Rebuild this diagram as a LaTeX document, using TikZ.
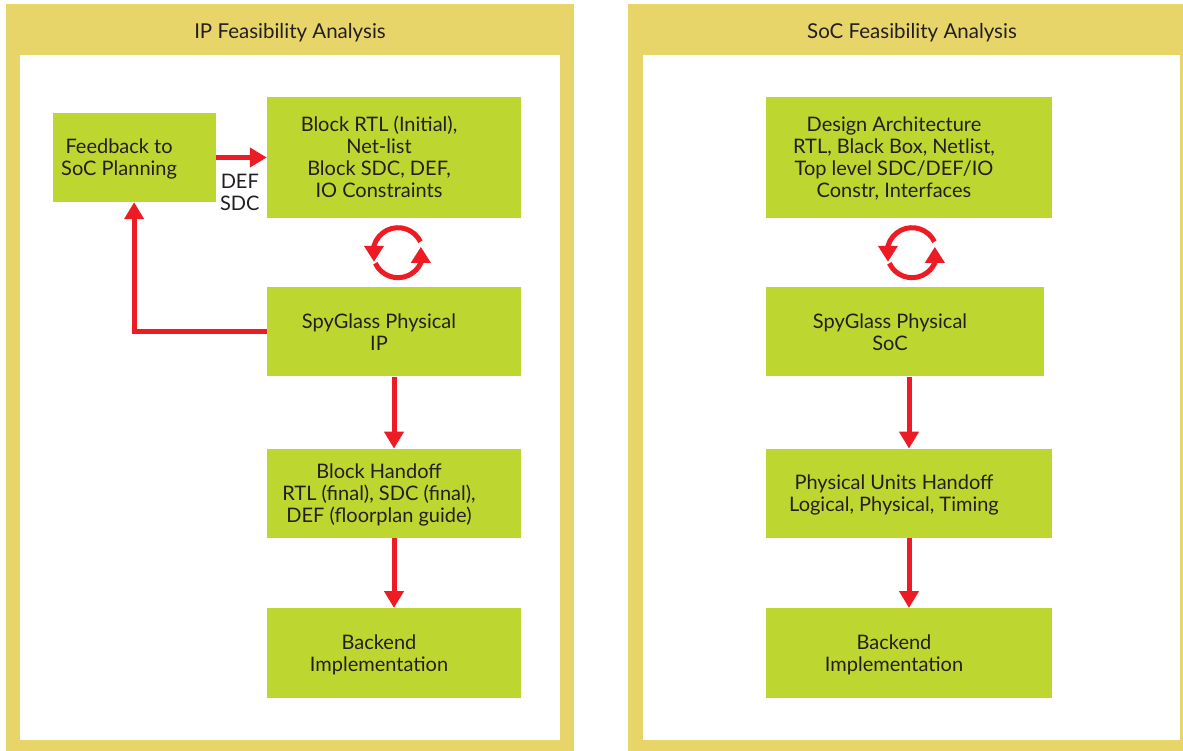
\documentclass[tikz,border=0pt]{standalone}
\usepackage{fontspec}
\setmainfont{Lato}
\usepackage{tikz}
\usetikzlibrary{positioning, calc, arrows.meta}
\definecolor{panelyellow}{RGB}{232,213,106}
\definecolor{boxgreen}{RGB}{190,214,48}
\definecolor{flowred}{RGB}{237,28,36}
\definecolor{textgray}{RGB}{35,31,32}
\newcommand{\boxlines}[1]{\raisebox{-3pt}[\height][\depth]{\begin{tabular}{@{}c@{}}#1\end{tabular}}\hspace*{30pt}}

\begin{document}
\begin{tikzpicture}[x=1pt, y=-1pt,
  box/.style={rectangle, fill=boxgreen, inner sep=0pt, minimum width=#1, anchor=center, text=textgray, font=\fontsize{20}{22}\selectfont},
  title/.style={text=textgray, font=\fontsize{20.5}{22}\selectfont},
  flow/.style={flowred, line width=5pt, -{Triangle[width=19pt, length=17pt]}},
  turn/.style={flowred, line width=5pt, -{Triangle[width=19pt, length=16pt]}}]

\useasboundingbox (0,0) rectangle (1183,751);

% Panels

\fill[panelyellow] (6,4) rectangle (574,751);
\fill[white] (20,55) rectangle (560,740);
\node[title] (iptitle) at (290,33) {IP Feasibility Analysis};

\fill[panelyellow] (628,4) rectangle (1196,751);
\fill[white] (643,55) rectangle (1180,740);
\node[title] (soctitle) at (912,33) {SoC Feasibility Analysis};

% IP flow

\node [box=254pt, minimum height=121pt] (rtl) at (394,157.5)
{\boxlines{Block RTL (Initial),\\ Net-list\\ Block SDC, DEF,\\ IO Constraints}};

\node [box=163pt, minimum height=89pt, left=51pt of rtl] (feedback)
{\boxlines{Feedback to\\ SoC Planning}};

\node [box=254pt, minimum height=89pt, below=69pt of rtl] (spyip)
{\boxlines{SpyGlass Physical\\ IP}};

\node [box=254pt, minimum height=89pt, below=72pt of spyip] (handoff)
{\boxlines{Block Handoff\\ RTL (final), SDC (final),\\ DEF (floorplan guide)}};

\node [box=254pt, minimum height=90pt, below=70pt of handoff] (backendip)
{\boxlines{Backend\\ Implementation}};

\node [box=1pt, fill=none, align=center] (defsdc) at ($(feedback.south east)+(24,-10)$) {DEF\\ SDC};

% SoC flow

\node [box=286pt, minimum height=121pt] (arch) at (909,157.5)
{\boxlines{Design Architecture\\ RTL, Black Box, Netlist,\\ Top level SDC/DEF/IO\\ Constr, Interfaces}};

\node [box=278pt, minimum height=89pt, below=69pt of arch.south west, anchor=north west] (spysoc)
{\boxlines{SpyGlass Physical\\ SoC}};

\node [box=286pt, minimum height=89pt, below=72pt of spysoc.south west, anchor=north west] (units)
{\boxlines{Physical Units Handoff\\ Logical, Physical, Timing}};

\node [box=286pt, minimum height=90pt, below=70pt of units] (backendsoc)
{\boxlines{Backend\\ Implementation}};

% Arrows

\draw[flow] (feedback.east) -- (rtl.west);
\draw[flow] (spyip.west) -| (feedback.south);
\draw[flow] (spyip) -- (handoff);
\draw[flow] (handoff) -- (backendip);

\draw[flow] (spysoc.south -| units.north) -- (units.north);
\draw[flow] (units) -- (backendsoc);

% Iteration loops

\coordinate (ipcycle) at ($(rtl.south)!0.5!(spyip.north)+(4,0)$);
\coordinate (soccycle) at ($(arch.south)!0.5!(spysoc.north -| arch.south)+(3,0)$);

\foreach \c in {ipcycle, soccycle} {
  \draw[turn] ($(\c)+(26:25pt)$) arc[start angle=26, end angle=164, radius=25pt] -- ++(0pt,-16pt);
  \draw[turn] ($(\c)+(205:25pt)$) arc[start angle=205, end angle=336, radius=25pt] -- ++(0pt,16pt);
}

\end{tikzpicture}
\end{document}
